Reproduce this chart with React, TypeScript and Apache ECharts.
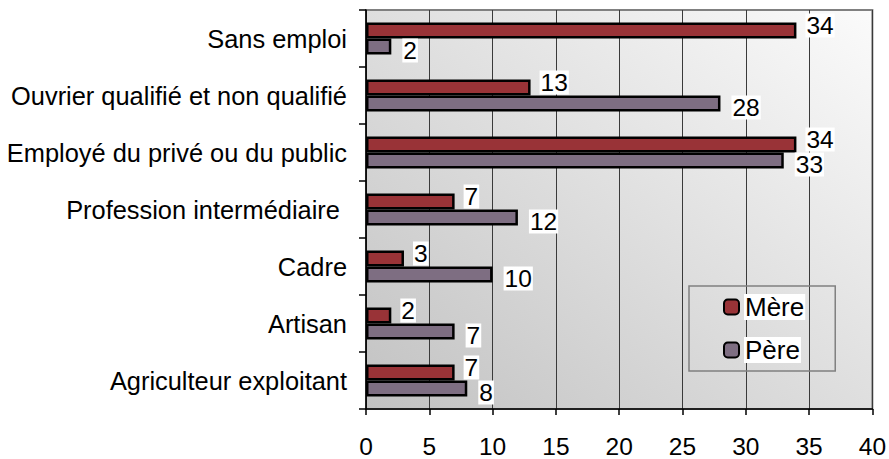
import React, { useEffect, useRef } from "react";
import * as echarts from "echarts";

const categories = [
  "Sans emploi",
  "Ouvrier qualifié et non qualifié",
  "Employé du privé ou du public",
  "Profession intermédiaire ",
  "Cadre",
  "Artisan",
  "Agriculteur exploitant",
];
const mereValues = [34, 13, 34, 7, 3, 2, 7];
const pereValues = [2, 28, 33, 12, 10, 7, 8];
const seriesNames = ["Mère", "Père"];
const xTicks = { min: 0, max: 40, interval: 5 };

const FONT = "'Liberation Sans', Arial, Helvetica, sans-serif";

export default function App() {
  const ref = useRef<HTMLDivElement>(null);
  useEffect(() => {
    if (!ref.current) return;
    const chart = echarts.init(ref.current, null, { renderer: "svg" });
    const labelStyle = (dist: number, dy: number) => ({
      show: true,
      position: "right",
      distance: dist,
      offset: [0, dy],
      color: "#000",
      fontSize: 24.5,
      fontFamily: FONT,
      backgroundColor: "#ffffff",
      padding: [0, 1, 0, 1],
      lineHeight: 24,
    });
    chart.setOption({
      animation: false,
      backgroundColor: "#ffffff",
      textStyle: { fontFamily: FONT },
      grid: {
        left: 366,
        right: 16,
        top: 10,
        bottom: 47,
        show: true,
        borderColor: "#808080",
        borderWidth: 2,
        backgroundColor: {
          type: "linear",
          x: 1,
          y: 0,
          x2: 0,
          y2: 1,
          colorStops: [
            { offset: 0, color: "#fbfbfb" },
            { offset: 1, color: "#c2c2c2" },
          ],
        },
      },
      legend: {
        data: seriesNames,
        orient: "vertical",
        left: 689,
        top: 286,
        itemWidth: 15,
        itemHeight: 15,
        itemGap: 17,
        padding: [8, 30, 8, 34],
        borderColor: "#808080",
        borderWidth: 1.5,
        backgroundColor: "transparent",
        textStyle: {
          fontSize: 26,
          color: "#000",
          fontFamily: FONT,
          backgroundColor: "#ffffff",
          lineHeight: 26,
          padding: [0, 1],
        },
      },
      xAxis: {
        type: "value",
        min: xTicks.min,
        max: xTicks.max,
        interval: xTicks.interval,
        axisLine: { show: true, lineStyle: { color: "#000", width: 1.5 } },
        axisTick: { show: true, length: 6, lineStyle: { color: "#000", width: 1.5 } },
        axisLabel: { fontSize: 24.5, color: "#000", margin: 25, fontFamily: FONT },
        splitLine: { show: true, lineStyle: { color: "#3a3a3a", width: 1 } },
      },
      yAxis: {
        type: "category",
        inverse: true,
        data: categories,
        axisLine: { show: true, lineStyle: { color: "#000", width: 1.5 } },
        axisTick: { show: true, length: 7, lineStyle: { color: "#000", width: 1.5 } },
        axisLabel: { fontSize: 25.4, color: "#000", margin: 19, fontFamily: FONT },
      },
      series: [
        {
          name: seriesNames[0],
          type: "bar",
          data: mereValues,
          barWidth: 16,
          barGap: "0%",
          itemStyle: { color: "#993337", borderColor: "#000", borderWidth: 2.5 },
          label: labelStyle(9, -5),
        },
        {
          name: seriesNames[1],
          type: "bar",
          data: pereValues,
          barWidth: 16,
          barGap: "0%",
          itemStyle: { color: "#7e6e82", borderColor: "#000", borderWidth: 2.5 },
          label: labelStyle(11, 4),
        },
      ],
    });
    return () => chart.dispose();
  }, []);
  return (
    <div
      ref={ref}
      style={{ position: "fixed", left: 0, top: 0, width: 889, height: 459 }}
    />
  );
}
